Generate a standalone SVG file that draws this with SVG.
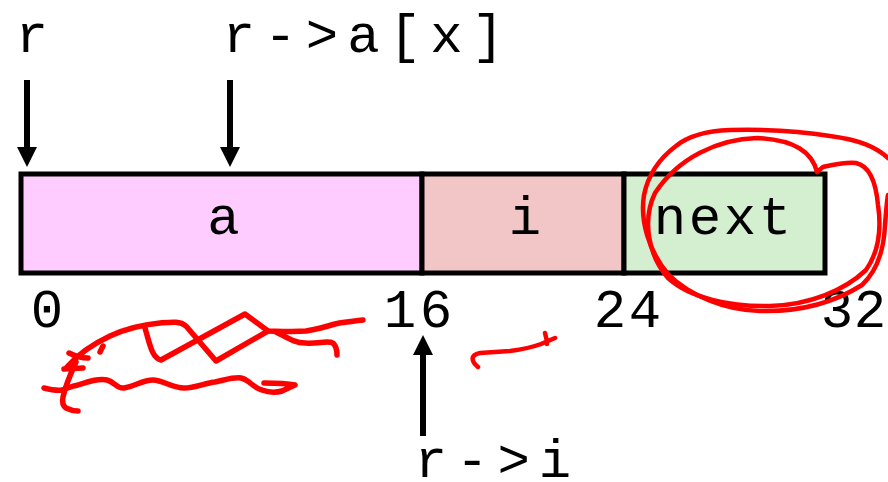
<svg xmlns="http://www.w3.org/2000/svg" width="888" height="482" viewBox="0 0 888 482">
<style>
text{font-family:"Liberation Mono","DejaVu Sans Mono",monospace;font-size:54px;fill:#000}
.box{stroke:#000;stroke-width:5}
.arrow{stroke:#000;stroke-width:6;fill:none}
.ink{fill:none;stroke:#ff0000;stroke-width:4.5;stroke-linecap:round;stroke-linejoin:round}
.thick{stroke-width:5.5}
</style>
<defs>
<marker id="head" markerUnits="userSpaceOnUse" markerWidth="22" markerHeight="22" refX="3" refY="10" orient="auto">
<path d="M0,0 L20,10 L0,20 z" fill="#000"/>
</marker>
</defs>
<rect width="888" height="482" fill="#fff"/>

<g id="node-a">
<rect class="box" x="21" y="174" width="401" height="99" fill="#ffccff"/>
<text x="207.3" y="234">a</text>
</g>
<g id="node-i">
<rect class="box" x="422" y="174" width="202" height="99" fill="#f2c6c6"/>
<text x="508.8" y="234">i</text>
</g>
<g id="node-next">
<rect class="box" x="624" y="174" width="201" height="99" fill="#d4eed0"/>
<text x="653.8" y="234" letter-spacing="2.6">next</text>
</g>

<g id="label-r"><text x="15.8" y="52">r</text></g>
<g id="label-rax"><text x="222.8" y="52" letter-spacing="9.1">r-&gt;a[x]</text></g>
<g id="label-ri"><text x="414.8" y="477" letter-spacing="8.9">r-&gt;i</text></g>
<g id="offsets">
<text x="30.8" y="327">0</text>
<text x="383.8" y="327" letter-spacing="3.6">16</text>
<text x="593.8" y="327" letter-spacing="2.6">24</text>
<text x="820.8" y="327" letter-spacing="0.6">32</text>
</g>

<g id="connectors">
<line class="arrow" x1="27" y1="80" x2="27" y2="150" marker-end="url(#head)"/>
<line class="arrow" x1="230" y1="80" x2="230" y2="150" marker-end="url(#head)"/>
<line class="arrow" x1="423" y1="436" x2="423" y2="352" marker-end="url(#head)"/>
</g>

<g id="annotations">
<path class="ink thick" d="M67,367 C80,352 95,343 110,336 C125,329 140,325 160,323 C172,322 180,321 186,326 L216,361 L268,331"/>
<path class="ink thick" d="M145,328 C150,345 152,358 161,360 L245,314 L268,331 C285,332 300,331 306,331 C318,329 325,327 335,324 C345,322 355,321 363,320"/>
<path class="ink thick" d="M276,332 C288,338 295,343 305,343 C318,344 328,340 333,343 C336,346 337,350 337,355"/>
<path class="ink thick" d="M69,353 C75,356 80,358 88,358 M64,369 L83,368 M103,346 L100,352"/>
<path class="ink thick" d="M44,388 C52,390 56,391 62,390 C68,388 72,386 78,385 C90,381 100,378 107,380 C115,382 117,389 124,388 C135,386 143,380 153,380 C163,380 172,388 184,388 C195,388 205,383 215,382 C225,380 233,377 241,378 C250,380 253,388 262,390 C270,393 275,393 282,391 L295,385 C285,383 275,383 264,383"/>
<path class="ink thick" d="M76,362 C70,375 65,388 63,397 C62,402 63,406 66,408 C70,410 74,411 78,411"/>
<path class="ink" d="M478,367 C471,361 470,355 480,353 L510,351 C525,349 533,347 541,344 L555,338 M545,333 C546,337 547,340 547,344"/>
<path class="ink" d="M817,172 C812,152 795,140 757,138 C718,139 678,158 655,193 C642,220 648,255 668,278 C690,298 730,307 770,306 C810,305 845,290 866,270 C880,250 881,225 878,205 C876,183 870,166 856,163 C845,162 832,165 823,167 Z"/>
<path class="ink" d="M888,158 C876,147 860,140 830,136 C800,131 770,129 730,130 C705,131 688,136 676,146 C660,158 648,175 644,195 C640,220 648,250 668,274 C690,296 725,310 760,311 C800,312 835,302 862,285 C878,270 884,248 885,225 C886,212 887,200 888,195"/>
</g>
</svg>
